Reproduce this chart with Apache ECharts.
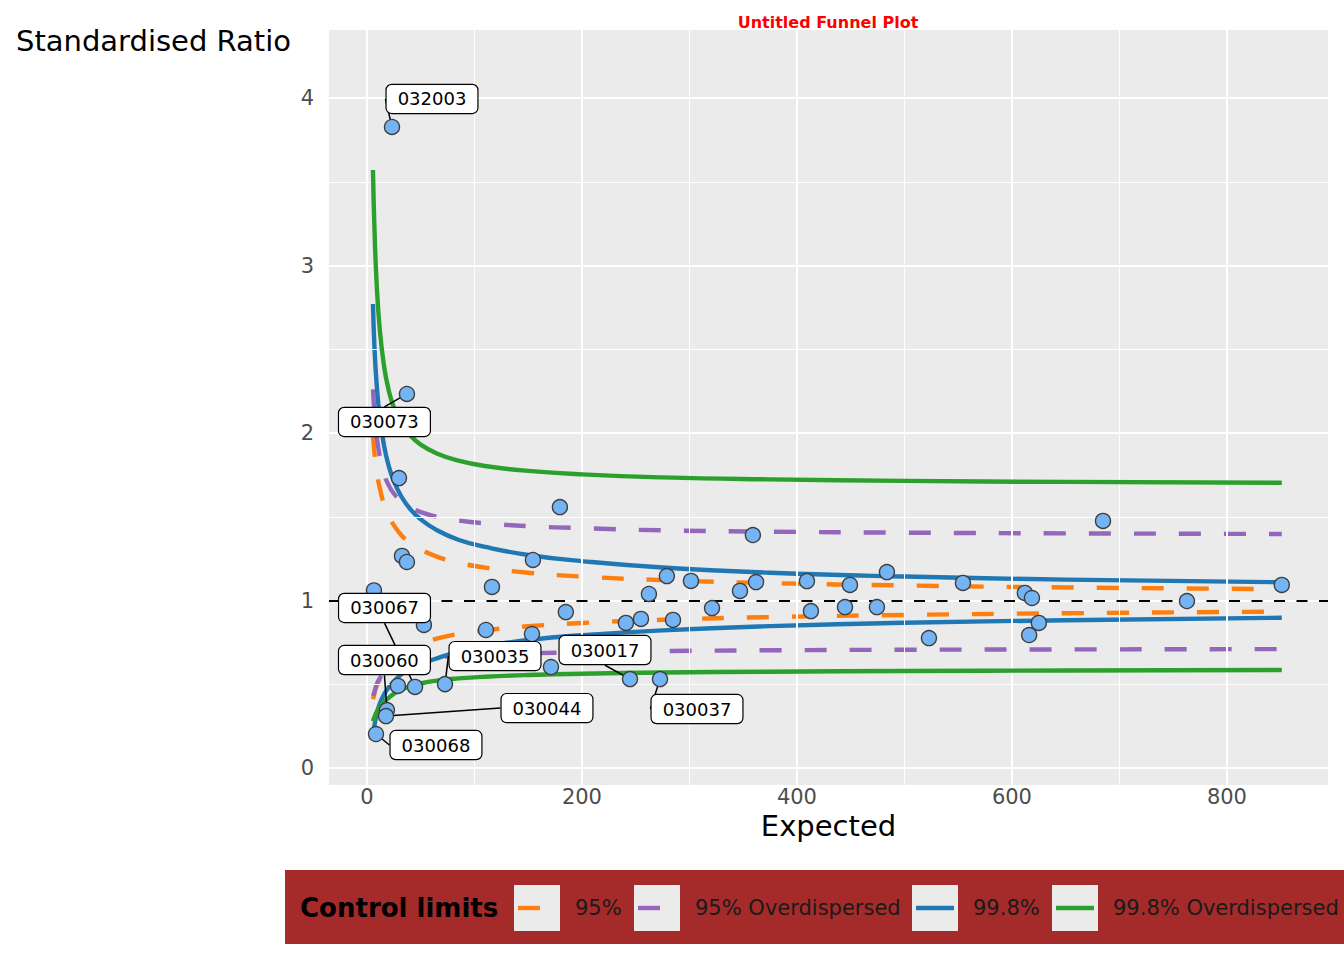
<!DOCTYPE html>
<html>
<head>
<meta charset="utf-8">
<script src="https://cdn.jsdelivr.net/npm/echarts@6/dist/echarts.min.js"></script>
<style>
html,body{margin:0;padding:0;background:#fff;}
#chart{width:1344px;height:960px;}
</style>
</head>
<body>
<div id="chart"></div>
<script>
// ---- data ----
const expected = [23.3, 37.2, 29.8, 179.5, 32.6, 37.2, 154.4, 116.3, 6.5, 53, 110.7, 185, 153.5, 44.7, 18.6, 17.7, 8.4, 72.6, 244.7, 272.6, 171.2, 279, 262.3, 301.4, 359, 347, 362, 409.3, 449.3, 483.7, 321, 413, 444.7, 474.4, 522.8, 240.9, 254.9, 284.7, 554.4, 684.7, 612, 618.6, 625, 616, 762.8, 851, 28.8];
const ratio = [3.827, 2.233, 1.731, 1.558, 1.266, 1.230, 1.242, 1.081, 1.060, 0.854, 0.824, 0.931, 0.800, 0.484, 0.346, 0.310, 0.203, 0.501, 0.531, 0.531, 0.603, 1.146, 1.039, 1.117, 1.391, 1.057, 1.110, 1.116, 1.093, 1.170, 0.955, 0.937, 0.961, 0.961, 0.776, 0.866, 0.890, 0.884, 1.105, 1.475, 1.045, 1.015, 0.866, 0.794, 0.997, 1.093, 0.490];
const pointIds = ['032003', '030073', '', '', '', '', '', '', '', '', '', '', '', '030067', '030060', '030044', '030068', '030035', '030017', '030037', '', '', '', '', '', '', '', '', '', '', '', '', '', '', '', '', '', '', '', '', '', '', '', '', '', '', ''];

const limitX      = [5.6, 7, 9, 12, 16, 20, 25, 32, 40, 50, 65, 85, 110, 150, 200, 275, 375, 500, 650, 851];
const upper95     = [1.99, 1.88, 1.77, 1.67, 1.57, 1.505, 1.45, 1.39, 1.345, 1.305, 1.262, 1.226, 1.196, 1.166, 1.143, 1.122, 1.104, 1.090, 1.078, 1.068];
const lower95     = [0.41, 0.445, 0.49, 0.53, 0.575, 0.612, 0.645, 0.68, 0.71, 0.742, 0.772, 0.80, 0.822, 0.846, 0.866, 0.885, 0.901, 0.914, 0.924, 0.934];
const upper95OD   = [2.26, 2.124, 1.983, 1.86, 1.754, 1.691, 1.639, 1.592, 1.557, 1.528, 1.50, 1.478, 1.461, 1.444, 1.432, 1.419, 1.411, 1.405, 1.401, 1.397];
const lower95OD   = [0.43, 0.456, 0.498, 0.537, 0.57, 0.591, 0.609, 0.626, 0.638, 0.65, 0.661, 0.67, 0.677, 0.685, 0.691, 0.698, 0.703, 0.706, 0.708, 0.71];
const upper998    = [2.77, 2.51, 2.295, 2.091, 1.922, 1.81, 1.713, 1.621, 1.548, 1.485, 1.42, 1.363, 1.32, 1.272, 1.235, 1.197, 1.166, 1.143, 1.125, 1.109];
const lower998    = [0.20, 0.255, 0.32, 0.385, 0.44, 0.48, 0.515, 0.56, 0.59, 0.62, 0.655, 0.693, 0.727, 0.764, 0.793, 0.822, 0.847, 0.867, 0.882, 0.897];
const upper998OD  = [3.57, 3.217, 2.897, 2.613, 2.395, 2.262, 2.154, 2.058, 1.988, 1.931, 1.878, 1.835, 1.803, 1.774, 1.753, 1.735, 1.723, 1.714, 1.708, 1.703];
const lower998OD  = [0.28, 0.305, 0.335, 0.366, 0.395, 0.418, 0.443, 0.468, 0.488, 0.505, 0.522, 0.535, 0.545, 0.555, 0.563, 0.57, 0.575, 0.579, 0.582, 0.585];

const target = 1;
const xTicks = [0, 200, 400, 600, 800];
const xMinorGrid = [100, 300, 500, 700];
const yTicks = [0, 1, 2, 3, 4];
const yMinorGrid = [0.5, 1.5, 2.5, 3.5];

const legendTitle = 'Control limits';
const legendNames = ['95%', '95% Overdispersed', '99.8%', '99.8% Overdispersed'];

// ---- styles ----
const FONT = 'DejaVu Sans';
const colors = {'95%': '#FF7F0E', '95% Overdispersed': '#9467BD', '99.8%': '#1F77B4', '99.8% Overdispersed': '#2CA02C'};
const dashed = {'95%': true, '95% Overdispersed': true, '99.8%': false, '99.8% Overdispersed': false};
const DASH = [22, 23];
const LW = 4.4;

const labelOffsets = {
  '032003': [40, -28],
  '030073': [-22.5, 28],
  '030067': [-30.5, -79],
  '030060': [-2.5, -50],
  '030035': [50, -28],
  '030044': [161, -8],
  '030068': [60, 11],
  '030017': [-25, -29],
  '030037': [37, 30]
};

function zip(xs, ys) { return xs.map((x, i) => [x, ys[i]]); }

function limitSeries(name, ys, z) {
  return {
    name: name, type: 'line', data: zip(limitX, ys), z: z,
    showSymbol: false, symbol: 'none', smooth: 0.5,
    silent: true, animation: false, clip: true,
    lineStyle: {color: colors[name], width: LW, type: dashed[name] ? DASH : 'solid', cap: 'butt', join: 'round'}
  };
}

const gridLines = [];
xTicks.forEach(v => gridLines.push({xAxis: v, lineStyle: {color: '#fff', width: 2, type: 'solid'}}));
xMinorGrid.forEach(v => gridLines.push({xAxis: v, lineStyle: {color: '#fff', width: 1, type: 'solid'}}));
yTicks.forEach(v => gridLines.push({yAxis: v, lineStyle: {color: '#fff', width: 2, type: 'solid'}}));
yMinorGrid.forEach(v => gridLines.push({yAxis: v, lineStyle: {color: '#fff', width: 1, type: 'solid'}}));

const scatterData = expected.map((x, i) => {
  const item = {value: [x, ratio[i]]};
  if (pointIds[i]) item.label = {show: true, formatter: pointIds[i]};
  return item;
});

const chart = echarts.init(document.getElementById('chart'), null, {renderer: 'svg'});

// legend drawn as graphic (ggplot-style keys)
const legendKeyX = [514, 634, 912, 1052];
const legendTextX = [575, 695, 973, 1113];
const LEG_Y = 908;
const graphics = [
  {type: 'text', silent: true, style: {x: 16, y: 41, text: 'Standardised Ratio', font: '29px "DejaVu Sans"', fill: '#000', align: 'left', verticalAlign: 'middle'}},
  {type: 'rect', left: 285, top: 870, shape: {width: 1059, height: 74}, style: {fill: '#A52A2A'}, silent: true},
  {type: 'text', silent: true, style: {x: 300, y: LEG_Y, text: legendTitle, font: 'bold 26px "DejaVu Sans"', fill: '#000', align: 'left', verticalAlign: 'middle'}}
];
legendNames.forEach((n, i) => {
  graphics.push({type: 'rect', left: legendKeyX[i], top: 885, shape: {width: 46, height: 46}, style: {fill: '#EBEBEB'}, silent: true});
  graphics.push({type: 'line', shape: {x1: legendKeyX[i] + 4, y1: LEG_Y, x2: legendKeyX[i] + 42, y2: LEG_Y},
    style: {stroke: colors[n], lineWidth: LW, lineDash: dashed[n] ? DASH : null}, silent: true});
  graphics.push({type: 'text', silent: true, style: {x: legendTextX[i], y: LEG_Y, text: n, font: '21px "DejaVu Sans"', fill: '#1A1A1A', align: 'left', verticalAlign: 'middle'}});
});

const option = {
  animation: false,
  backgroundColor: '#fff',
  textStyle: {fontFamily: FONT},
  title: {
    text: 'Untitled Funnel Plot', left: 823, top: 9, textAlign: 'center',
    textStyle: {color: '#FF0000', fontSize: 16, fontWeight: 'bold', fontFamily: FONT}
  },
  grid: {left: 329, right: 16, top: 30, bottom: 175, show: true, backgroundColor: '#EBEBEB', borderWidth: 0, containLabel: false},
  xAxis: {
    type: 'value', min: -35.3, max: 894,
    name: 'Expected', nameLocation: 'middle', nameGap: 16,
    nameTextStyle: {fontSize: 29, color: '#000', fontFamily: FONT, verticalAlign: 'top'},
    axisLine: {show: false},
    axisTick: {show: true, length: 7, lineStyle: {color: '#333', width: 1.5}, customValues: xTicks},
    axisLabel: {color: '#4D4D4D', fontSize: 21, margin: 1, fontFamily: FONT, customValues: xTicks},
    splitLine: {show: false}
  },
  yAxis: {
    type: 'value', min: -0.1014, max: 4.406,
    axisLine: {show: false},
    axisTick: {show: true, length: 7, lineStyle: {color: '#333', width: 1.5}, customValues: yTicks},
    axisLabel: {color: '#4D4D4D', fontSize: 21, margin: 15, fontFamily: FONT, customValues: yTicks},
    splitLine: {show: false}
  },
  graphic: graphics,
  series: [
    {
      name: 'grid', type: 'line', data: [], z: 1, silent: true, symbol: 'none',
      markLine: {silent: true, symbol: 'none', label: {show: false}, animation: false, data: gridLines}
    },
    limitSeries('95%', upper95, 2),
    limitSeries('95%', lower95, 2),
    limitSeries('95% Overdispersed', upper95OD, 3),
    limitSeries('95% Overdispersed', lower95OD, 3),
    limitSeries('99.8%', upper998, 4),
    limitSeries('99.8%', lower998, 4),
    limitSeries('99.8% Overdispersed', upper998OD, 5),
    limitSeries('99.8% Overdispersed', lower998OD, 5),
    {
      name: 'target', type: 'line', data: [], z: 6, silent: true, symbol: 'none',
      markLine: {silent: true, symbol: 'none', label: {show: false}, animation: false,
        data: [{yAxis: target, lineStyle: {color: '#000', width: 2, type: [11, 11.5]}}]}
    },
    {
      name: 'points', type: 'scatter', data: scatterData, z: 7,
      symbol: 'circle', symbolSize: 15,
      itemStyle: {color: '#74B4F5', borderColor: '#3F3F3F', borderWidth: 1.4, opacity: 1},
      label: {
        show: false, position: 'inside', color: '#000', fontSize: 18, fontFamily: FONT,
        backgroundColor: '#fff', borderColor: '#000', borderWidth: 1.2, borderRadius: 5,
        padding: [5, 11], align: 'center', verticalAlign: 'middle'
      },
      labelLine: {show: true, lineStyle: {color: '#000', width: 1.5}},
      labelLayout: function (params) {
        const id = pointIds[params.dataIndex];
        const o = labelOffsets[id];
        if (!o) return {};
        return {dx: o[0], dy: o[1]};
      },
      emphasis: {disabled: true}
    }
  ]
};
chart.setOption(option);
</script>
</body>
</html>
